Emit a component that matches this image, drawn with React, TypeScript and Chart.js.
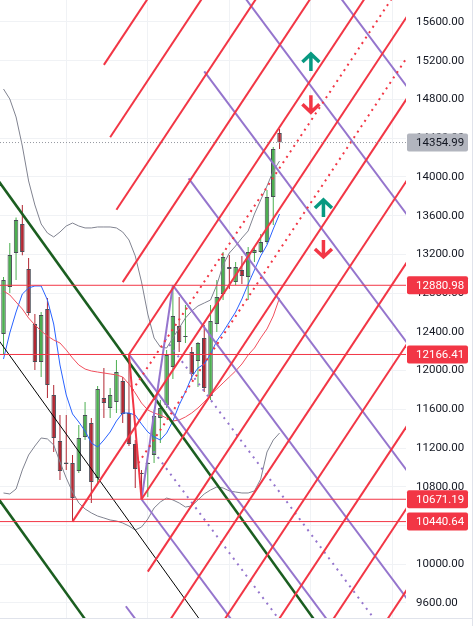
import React, { useEffect, useRef } from 'react';
import { Chart, registerables } from 'chart.js';

Chart.register(...registerables);

// ---- candle data (index = bar number) ----
const opens = [12378, 12863, 13214, 13514, 13049, 12481, 12088, 12636, 11748, 11273, 11050, 11046, 10963, 11314, 11459, 10891, 11717, 11614, 11676, 11893, 11562, 11242, 10943, 11035, 11128, 11510, 11645, 12037, 12460, 12347, 12192, 12099, 12337, 11738, 12481, 12791, 13070, 12915, 13039, 12967, 13214, 13225, 13328, 13793, 14454];
const highs = [12967, 13318, 13580, 13710, 13163, 12584, 12605, 12750, 11851, 11541, 11541, 11128, 11438, 11676, 11510, 11841, 12027, 11820, 12109, 11934, 12166.41, 11283, 10974, 11056, 11593, 11696, 12213, 12880.98, 12760, 12677, 12244, 12295, 12471, 12677, 12936, 13225, 13194, 13121, 13184, 13276, 13287, 13411, 13865, 14309, 14495];
const lows = [12161, 12801, 12936, 13190, 12570, 12006, 11934, 11717, 11159, 10870, 10974, 10440.64, 10943, 11283, 10633, 10839, 11510, 11510, 11562, 11459, 11221, 10788, 10671.19, 10694, 11046, 11252, 11614, 11913, 12192, 12285, 11903, 11831, 11779, 11696, 12399, 12729, 12843, 12884, 12894, 12729, 13121, 13214, 13307, 13504, 14288];
const closes = [12936, 13194, 13555, 13225, 12595, 12088, 12574, 11851, 11304, 10963, 11035, 10684, 11304, 11541, 10850, 11810, 11665, 11748, 11985, 11552, 11242, 10984, 10932, 11046, 11531, 11614, 12161, 12564, 12295, 12357, 11965, 12285, 11820, 12512, 12760, 13173, 13049, 13070, 12977, 13225, 13245, 13328, 13793, 14288, 14354.99];

// ---- indicators ----
const maFast = [12120, 12388, 12605, 12791, 12853, 12874, 12874, 12729, 12481, 12058, 11748, 11552, 11469, 11376, 11252, 11211, 11283, 11366, 11479, 11562, 11562, 11541, 11448, 11366, 11314, 11283, 11355, 11479, 11645, 11779, 11934, 12027, 12068, 12171, 12306, 12399, 12502, 12605, 12739, 12894, 13039, 13184, 13297, 13462, 13617];
const bbBasis = [12822, 12781, 12708, 12636, 12543, 12471, 12409, 12357, 12316, 12285, 12213, 12130, 12058, 12016, 11996, 11985, 11975, 11965, 11955, 11934, 11861, 11769, 11665, 11593, 11562, 11541, 11510, 11479, 11490, 11521, 11562, 11614, 11676, 11748, 11810, 11872, 11934, 11996, 12068, 12161, 12233, 12337, 12430, 12564, 12750];
const bbUpper = [14908, 14805, 14619, 14319, 13958, 13710, 13514, 13421, 13380, 13431, 13493, 13524, 13493, 13473, 13473, 13483, 13483, 13483, 13473, 13431, 13349, 13184, 12915, 12584, 12337, 12244, 12233, 12337, 12440, 12543, 12615, 12667, 12698, 12729, 12884, 13090, 13214, 13287, 13369, 13442, 13617, 13762, 13906, 14061, 14164];
const bbLower = [10736, 10726, 10777, 10974, 11128, 11221, 11304, 11294, 11232, 11056, 10891, 10746, 10633, 10571, 10530, 10498, 10478, 10457, 10447, 10426, 10395, 10354, 10385, 10467, 10581, 10643, 10684, 10664, 10633, 10591, 10602, 10664, 10726, 10767, 10798, 10788, 10757, 10746, 10736, 10736, 10757, 10880, 11159, 11283, 11355];

// ---- horizontal levels and labels ----
const priceLevels = [12880.98, 12166.41, 10671.19, 10440.64];
const lastPrice = 14354.99;

// ---- drawings (bar index, price) ----
const redForkA: [number, number] = [11, 10440.64];
const redForkB: [number, number] = [20, 12166.41];
const redForkC: [number, number] = [22, 10671.19];
const purpleForkA: [number, number] = [20, 12166.41];
const purpleForkB: [number, number] = [22, 10671.19];
const purpleForkC: [number, number] = [27, 12880.98];
const forkLevels = [0.5, 1, 2, 3, 4, 5, 6, 7, 8];
const channelTop: [number, number][] = [[-5, 14337], [55, 8935]];
const channelBottom: [number, number][] = [[-5, 11053], [55, 5651]];
const arrowsUp: [number, number][] = [[49, 15280], [51, 13772]];
const arrowsDown: [number, number][] = [[49, 14657], [51, 13163]];

// ---- axes ----
const xGridBars = [10, 23, 36, 49, 62];
const yTickValues = [9600, 10000, 10400, 10800, 11200, 11600, 12000, 12400, 12800, 13200, 13600, 14000, 14400, 14800, 15200, 15600];
const xMin = -0.56;
const xMax = 64.16;
const yMin = 9445;
const yMax = 15827;

const RED = '#f23645';
const PURPLE = '#9575cd';
const CANDLE_UP = '#4caf50';
const CANDLE_DOWN = '#b22833';
const TEAL = '#089981';

type P = [number, number];

function forkLines(a: P, b: P, c: P) {
  const mid: P = [(b[0] + c[0]) / 2, (b[1] + c[1]) / 2];
  const dir: P = [mid[0] - a[0], mid[1] - a[1]];
  const far = 20;
  const ray = (s: P) => [{ x: s[0], y: s[1] }, { x: s[0] + dir[0] * far, y: s[1] + dir[1] * far }];
  const out: { pts: { x: number; y: number }[]; dotted: boolean }[] = [];
  out.push({ pts: ray(a), dotted: false });
  out.push({ pts: [{ x: b[0], y: b[1] }, { x: c[0], y: c[1] }], dotted: false });
  for (const k of forkLevels) {
    for (const e of [b, c]) {
      const s: P = [mid[0] + k * (e[0] - mid[0]), mid[1] + k * (e[1] - mid[1])];
      out.push({ pts: ray(s), dotted: k < 1 });
    }
  }
  return out;
}

export default function App() {
  const ref = useRef<HTMLCanvasElement>(null);

  useEffect(() => {
    const canvas = ref.current;
    if (!canvas) return;
    const idx = opens.map((_, i) => i);
    const isUp = idx.map((i) => closes[i] >= opens[i]);

    const line = (pts: { x: number; y: number }[], color: string, width: number, dash: number[] = [], order = 4) => ({
      type: 'line',
      data: pts,
      borderColor: color,
      borderWidth: width,
      borderDash: dash,
      borderCapStyle: 'butt',
      pointRadius: 0,
      pointHoverRadius: 0,
      fill: false,
      tension: 0,
      order,
    });

    const datasets: any[] = [];
    datasets.push({
      type: 'bar',
      data: idx.map((i) => ({ x: i, y: [lows[i], highs[i]] })),
      backgroundColor: isUp.map((u) => (u ? CANDLE_UP : CANDLE_DOWN)),
      borderWidth: 0,
      maxBarThickness: 1,
      grouped: false,
      order: 20,
    });
    datasets.push({
      type: 'bar',
      data: idx.map((i) => ({ x: i, y: [opens[i], closes[i]] })),
      backgroundColor: isUp.map((u) => (u ? CANDLE_UP : CANDLE_DOWN)),
      borderColor: '#4a4d57',
      borderWidth: 1,
      borderSkipped: false,
      maxBarThickness: 5,
      grouped: false,
      order: 19,
    });

    const series = (arr: number[]) => arr.map((v, i) => ({ x: i, y: v }));
    datasets.push(line(series(bbUpper), '#808390', 1, [], 8));
    datasets.push(line(series(bbLower), '#808390', 1, [], 8));
    datasets.push(line(series(bbBasis), '#f0505e', 1, [], 8));
    datasets.push(line(series(maFast), '#2962ff', 1, [], 8));

    // parallel channel
    const toPts = (arr: [number, number][]) => arr.map(([x, y]) => ({ x, y }));
    datasets.push(line(toPts(channelTop), '#1b5e20', 2.5, [], 5));
    datasets.push(line(toPts(channelBottom), '#1b5e20', 2.5, [], 5));
    datasets.push(
      line(
        channelTop.map(([x, y], k) => ({ x, y: (y + channelBottom[k][1]) / 2 })),
        '#000000',
        1,
        [],
        5
      )
    );

    for (const f of forkLines(redForkA, redForkB, redForkC)) {
      datasets.push(line(f.pts, RED, 2, f.dotted ? [2, 4.5] : [], 4));
    }
    for (const f of forkLines(purpleForkA, purpleForkB, purpleForkC)) {
      datasets.push(line(f.pts, PURPLE, 2, f.dotted ? [2, 5] : [], 4));
    }

    for (const p of priceLevels) {
      datasets.push(line([{ x: xMin, y: p }, { x: xMax, y: p }], RED, 1, [], 3));
    }
    datasets.push(line([{ x: xMin, y: lastPrice }, { x: xMax, y: lastPrice }], '#9598a1', 1, [1, 2], 3));

    const overlay = {
      id: 'overlay',
      afterDatasetsDraw(chart: any) {
        const { ctx, scales } = chart;
        const xs = scales.x;
        const ys = scales.y;
        ctx.save();
        ctx.lineWidth = 3.5;
        ctx.lineJoin = 'miter';
        ctx.lineCap = 'butt';
        for (const [i, p] of arrowsUp) {
          const px = xs.getPixelForValue(i);
          const py = ys.getPixelForValue(p);
          ctx.strokeStyle = TEAL;
          ctx.beginPath();
          ctx.moveTo(px - 8.5, py + 9);
          ctx.lineTo(px, py + 1);
          ctx.lineTo(px + 8.5, py + 9);
          ctx.moveTo(px, py + 1.5);
          ctx.lineTo(px, py + 18);
          ctx.stroke();
        }
        for (const [i, p] of arrowsDown) {
          const px = xs.getPixelForValue(i);
          const py = ys.getPixelForValue(p);
          ctx.strokeStyle = RED;
          ctx.beginPath();
          ctx.moveTo(px - 8.5, py - 9);
          ctx.lineTo(px, py - 1);
          ctx.lineTo(px + 8.5, py - 9);
          ctx.moveTo(px, py - 1.5);
          ctx.lineTo(px, py - 18);
          ctx.stroke();
        }
        ctx.restore();
      },
      afterDraw(chart: any) {
        const { ctx, chartArea, scales } = chart;
        const ys = scales.y;
        ctx.save();
        const box = (p: number, bg: string, fg: string) => {
          const py = ys.getPixelForValue(p);
          const bx = chartArea.right + 1;
          ctx.fillStyle = bg;
          ctx.beginPath();
          if (ctx.roundRect) ctx.roundRect(bx, py - 9, 61, 18, 2);
          else ctx.rect(bx, py - 9, 61, 18);
          ctx.fill();
          ctx.fillStyle = fg;
          ctx.font = '11.5px Roboto';
          ctx.textBaseline = 'middle';
          ctx.textAlign = 'left';
          ctx.fillText(p.toFixed(2), chartArea.right + 10, py + 0.5);
        };
        box(lastPrice, '#b2b5be', '#131722');
        for (const p of priceLevels) box(p, RED, '#ffffff');
        ctx.strokeStyle = '#e0e3eb';
        ctx.lineWidth = 1;
        ctx.beginPath();
        ctx.moveTo(0, chartArea.bottom + 0.5);
        ctx.lineTo(473, chartArea.bottom + 0.5);
        ctx.moveTo(472.5, 0);
        ctx.lineTo(472.5, chart.height);
        ctx.stroke();
        ctx.restore();
      },
    };

    const chart = new Chart(canvas, {
      type: 'line',
      data: { datasets },
      options: {
        animation: false,
        responsive: false,
        devicePixelRatio: 1,
        events: [],
        layout: { padding: 0, autoPadding: false },
        plugins: { legend: { display: false }, tooltip: { enabled: false } },
        scales: {
          x: {
            type: 'linear',
            min: xMin,
            max: xMax,
            offset: false,
            grid: { color: '#f0f2f5', drawTicks: false, offset: false },
            border: { display: false },
            ticks: { display: false },
            afterBuildTicks: (s: any) => {
              s.ticks = xGridBars.map((v) => ({ value: v }));
            },
            afterFit: (s: any) => {
              s.height = 8;
              s.paddingLeft = 0;
              s.paddingRight = 0;
            },
          },
          y: {
            type: 'linear',
            position: 'right',
            min: yMin,
            max: yMax,
            grid: { color: '#f0f2f5', drawTicks: false },
            border: { display: false },
            ticks: {
              padding: 10,
              color: '#131722',
              autoSkip: false,
              font: { family: 'Roboto', size: 11.5 },
              callback: (v: any) => Number(v).toFixed(2),
            },
            afterBuildTicks: (s: any) => {
              s.ticks = yTickValues.map((v) => ({ value: v }));
            },
            afterFit: (s: any) => {
              s.width = 69;
              s.paddingTop = 0;
              s.paddingBottom = 0;
            },
          },
        },
      } as any,
      plugins: [overlay],
    } as any);

    return () => chart.destroy();
  }, []);

  return (
    <div style={{ position: 'absolute', left: 0, top: 0, width: 475, height: 626, background: '#ffffff' }}>
      <canvas ref={ref} width={475} height={626} style={{ display: 'block' }} />
    </div>
  );
}
